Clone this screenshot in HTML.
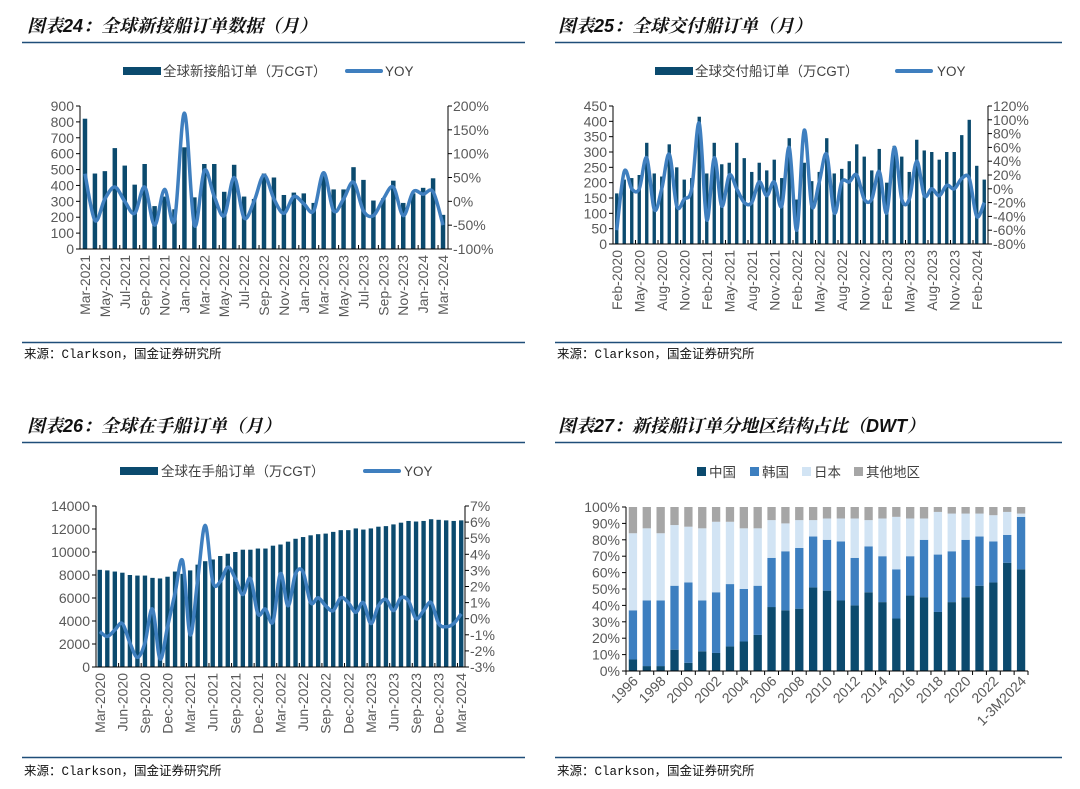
<!DOCTYPE html>
<html><head><meta charset="utf-8"><style>
body{margin:0;background:#fff;}
svg{display:block;font-family:"Liberation Sans","Noto Sans CJK SC",sans-serif;}
.t{font-size:18px;font-weight:bold;font-style:italic;fill:#111;font-family:"Liberation Sans","Noto Serif CJK SC",serif;}
.src{font-size:12.5px;fill:#111;font-family:"Liberation Mono","Noto Sans CJK SC",monospace;}
.tk{font-size:14px;fill:#595959;}
.lg{font-size:13.5px;fill:#404040;}
</style></head><body>
<svg id="s" width="1080" height="789" viewBox="0 0 1080 789">
<text class="t" x="27" y="32">图表24：全球新接船订单数据（月）</text>
<text class="t" x="558" y="32">图表25：全球交付船订单（月）</text>
<text class="t" x="27" y="432">图表26：全球在手船订单（月）</text>
<text class="t" x="558" y="432">图表27：新接船订单分地区结构占比（DWT）</text>
<line x1="22" y1="42.5" x2="525" y2="42.5" stroke="#1f4e79" stroke-width="1.5"/>
<line x1="555" y1="42.5" x2="1062" y2="42.5" stroke="#1f4e79" stroke-width="1.5"/>
<line x1="22" y1="442.5" x2="525" y2="442.5" stroke="#1f4e79" stroke-width="1.5"/>
<line x1="555" y1="442.5" x2="1062" y2="442.5" stroke="#1f4e79" stroke-width="1.5"/>
<line x1="22" y1="342.5" x2="525" y2="342.5" stroke="#1f4e79" stroke-width="1.5"/>
<line x1="555" y1="342.5" x2="1062" y2="342.5" stroke="#1f4e79" stroke-width="1.5"/>
<line x1="22" y1="757.5" x2="525" y2="757.5" stroke="#1f4e79" stroke-width="1.5"/>
<line x1="555" y1="757.5" x2="1062" y2="757.5" stroke="#1f4e79" stroke-width="1.5"/>
<text class="src" x="24" y="358">来源：Clarkson，国金证券研究所</text>
<text class="src" x="557" y="358">来源：Clarkson，国金证券研究所</text>
<text class="src" x="24" y="775">来源：Clarkson，国金证券研究所</text>
<text class="src" x="557" y="775">来源：Clarkson，国金证券研究所</text>

<g>
<rect x="123" y="67" width="38" height="8" fill="#0b4a6e"/><text class="lg" x="163" y="76">全球新接船订单（万CGT）</text>
<rect x="345" y="69" width="38" height="4" rx="2" fill="#3f7fbf"/><text class="lg" x="385" y="76">YOY</text></g>
<g>
<rect x="655" y="67" width="38" height="8" fill="#0b4a6e"/><text class="lg" x="695" y="76">全球交付船订单（万CGT）</text>
<rect x="895" y="69" width="38" height="4" rx="2" fill="#3f7fbf"/><text class="lg" x="937" y="76">YOY</text></g>
<g>
<rect x="120" y="467" width="38" height="8" fill="#0b4a6e"/><text class="lg" x="161" y="476">全球在手船订单（万CGT）</text>
<rect x="363" y="469" width="38" height="4" rx="2" fill="#3f7fbf"/><text class="lg" x="404" y="476">YOY</text></g>
<g>
<rect x="697" y="467" width="9" height="9" fill="#0b4a6e"/><text class="lg" x="709" y="477">中国</text>
<rect x="750" y="467" width="9" height="9" fill="#3d7fc0"/><text class="lg" x="762" y="477">韩国</text>
<rect x="802" y="467" width="9" height="9" fill="#d2e4f4"/><text class="lg" x="814" y="477">日本</text>
<rect x="854" y="467" width="9" height="9" fill="#a6a6a6"/><text class="lg" x="866" y="477">其他地区</text></g>
<g id="c1"></g><g id="c2"></g><g id="c3"></g><g id="c4"></g>
</svg>
<script>
const c1Bars=[820,475,490,635,525,405,535,270,330,250,640,325,535,535,360,530,330,315,475,450,340,355,350,290,460,375,375,515,435,305,320,430,290,350,385,445,215];
const c1Yoy=[58,-40,5,30,0,-25,30,-50,25,-40,185,-50,65,10,-30,50,-35,0,55,5,-25,10,-5,-20,60,-20,5,40,-20,-30,5,30,-30,20,15,20,-50];
const c1Labels=["Mar-2021","May-2021","Jul-2021","Sep-2021","Nov-2021","Jan-2022","Mar-2022","May-2022","Jul-2022","Sep-2022","Nov-2022","Jan-2023","Mar-2023","May-2023","Jul-2023","Sep-2023","Nov-2023","Jan-2024","Mar-2024"];
const c1LeftTicks=[0,100,200,300,400,500,600,700,800,900];
const c1RightTicks=[-100,-50,0,50,100,150,200];

const c2Bars=[165,210,215,225,330,230,220,325,250,210,215,415,230,330,260,265,330,280,235,265,240,275,215,345,145,265,205,235,345,230,245,270,325,285,240,310,200,320,285,235,340,305,300,275,300,300,355,405,255,210];
const c2Yoy=[-60,25,0,0,45,-30,0,50,-25,-15,0,95,-45,45,-25,20,0,-20,-20,10,-10,10,-25,60,-60,85,-25,10,50,-35,10,10,20,-15,-15,25,-35,60,-15,-15,40,-10,0,-10,5,0,15,15,-40,-20];
const c2Labels=["Feb-2020","May-2020","Aug-2020","Nov-2020","Feb-2021","May-2021","Aug-2021","Nov-2021","Feb-2022","May-2022","Aug-2022","Nov-2022","Feb-2023","May-2023","Aug-2023","Nov-2023","Feb-2024"];
const c2LeftTicks=[0,50,100,150,200,250,300,350,400,450];
const c2RightTicks=[-80,-60,-40,-20,0,20,40,60,80,100,120];

const c3Bars=[8450,8400,8300,8200,8000,7950,7950,7750,7700,7850,8300,8100,8400,8900,9200,9350,9650,9850,10000,10200,10200,10300,10300,10550,10650,10900,11150,11300,11450,11550,11600,11750,11900,11900,12050,11950,12050,12200,12250,12400,12550,12700,12650,12700,12850,12800,12750,12700,12750];
const c3Yoy=[-0.8,-1.1,-0.7,-0.3,-1.5,-2.4,-1.5,0.6,-2.5,-0.5,1.6,3.6,-1.0,2.4,5.8,2.3,2.3,3.2,2.5,1.5,2.5,0.3,0.6,-0.2,2.8,0.8,2.8,2.9,1.0,1.3,0.8,0.5,1.3,1.0,0.4,1.0,-0.3,0.8,1.2,0.5,1.3,1.1,0.0,0.5,1.0,-0.3,-0.5,-0.3,0.3];
const c3Labels=["Mar-2020","Jun-2020","Sep-2020","Dec-2020","Mar-2021","Jun-2021","Sep-2021","Dec-2021","Mar-2022","Jun-2022","Sep-2022","Dec-2022","Mar-2023","Jun-2023","Sep-2023","Dec-2023","Mar-2024"];
const c3LeftTicks=[0,2000,4000,6000,8000,10000,12000,14000];
const c3RightTicks=[-3,-2,-1,0,1,2,3,4,5,6,7];

const c4Years=["1996","1997","1998","1999","2000","2001","2002","2003","2004","2005","2006","2007","2008","2009","2010","2011","2012","2013","2014","2015","2016","2017","2018","2019","2020","2021","2022","2023","1-3M2024"];
const c4China=[7,3,3,13,5,12,11,15,18,22,39,37,38,51,49,43,40,48,42,32,46,45,36,42,45,52,54,66,62];
const c4Korea=[30,40,40,39,49,31,37,38,32,30,30,36,37,31,31,36,29,28,28,30,24,35,35,31,35,30,25,17,32];
const c4Japan=[47,44,41,37,34,44,43,38,37,35,23,17,17,10,13,14,24,16,23,32,23,13,26,23,16,14,16,14,2];
const c4Other=[16,13,16,11,12,13,9,9,13,13,8,10,8,8,7,7,7,8,7,6,7,7,3,4,4,4,5,3,4];
const c4Ticks=[0,10,20,30,40,50,60,70,80,90,100];

const NS="http://www.w3.org/2000/svg";
function mk(p,tag,a){const e=document.createElementNS(NS,tag);for(const k in a)e.setAttribute(k,a[k]);p.appendChild(e);return e;}
function smooth(pts){let d="M"+pts[0][0]+","+pts[0][1];for(let i=0;i<pts.length-1;i++){const p0=pts[Math.max(0,i-1)],p1=pts[i],p2=pts[i+1],p3=pts[Math.min(pts.length-1,i+2)];const c1x=p1[0]+(p2[0]-p0[0])/6,c1y=p1[1]+(p2[1]-p0[1])/6,c2x=p2[0]-(p3[0]-p1[0])/6,c2y=p2[1]-(p3[1]-p1[1])/6;d+=" C"+c1x+","+c1y+" "+c2x+","+c2y+" "+p2[0]+","+p2[1];}return d;}

function combo(id,o){
 const g=document.getElementById(id);
 const n=o.bars.length,bw=(o.x1-o.x0)/n;
 const yL=v=>o.yb-(v-o.lmin)/(o.lmax-o.lmin)*(o.yb-o.yt);
 const yR=v=>o.yb-(v-o.rmin)/(o.rmax-o.rmin)*(o.yb-o.yt);
 const xc=i=>o.x0+bw*(i+0.5);
 o.bars.forEach((v,i)=>{const r=mk(g,"rect",{x:xc(i)-bw*o.bf/2,y:yL(v),width:bw*o.bf,height:o.yb-yL(v),fill:"#0b4a6e"});
  
  });
 const pts=o.yoy.map((v,i)=>[xc(i),yR(v)]);
 const ln=mk(g,"path",{d:smooth(pts),fill:"none",stroke:"#3f7fbf","stroke-width":3.5,"stroke-linejoin":"round"});
 
 
 mk(g,"line",{x1:o.x0,y1:o.yt,x2:o.x0,y2:o.yb,stroke:"#000","stroke-width":1});
 mk(g,"line",{x1:o.x1,y1:o.yt,x2:o.x1,y2:o.yb,stroke:"#000","stroke-width":1});
 mk(g,"line",{x1:o.x0,y1:o.yb,x2:o.x1,y2:o.yb,stroke:"#000","stroke-width":1});
 o.lt.forEach(v=>{mk(g,"line",{x1:o.x0-4,y1:yL(v),x2:o.x0,y2:yL(v),stroke:"#000"});
  const t=mk(g,"text",{x:o.x0-6,y:yL(v)+5,"text-anchor":"end",class:"tk"});t.textContent=v;
  
  });
 o.rt.forEach(v=>{mk(g,"line",{x1:o.x1,y1:yR(v),x2:o.x1+4,y2:yR(v),stroke:"#000"});
  const t=mk(g,"text",{x:o.x1+5,y:yR(v)+5,class:"tk"});t.textContent=v+"%";
  
  });
 for(let i=0;i<=n;i+=o.step){mk(g,"line",{x1:o.x0+bw*i,y1:o.yb,x2:o.x0+bw*i,y2:o.yb-4,stroke:"#000"});}
 o.labels.forEach((s,k)=>{const x=xc(k*o.step)+5;const t=mk(g,"text",{x:x,y:o.yb+6,"text-anchor":"end",class:"tk",transform:"rotate(-90 "+x+" "+(o.yb+6)+")"});t.textContent=s;
  
  });
}
combo("c1",{bars:c1Bars,yoy:c1Yoy,labels:c1Labels,lt:c1LeftTicks,rt:c1RightTicks,x0:80,x1:448,yt:106,yb:249,lmin:0,lmax:900,rmin:-100,rmax:200,step:2,bf:0.45});
combo("c2",{bars:c2Bars,yoy:c2Yoy,labels:c2Labels,lt:c2LeftTicks,rt:c2RightTicks,x0:613,x1:988,yt:106,yb:244,lmin:0,lmax:450,rmin:-80,rmax:120,step:3,bf:0.45});
combo("c3",{bars:c3Bars,yoy:c3Yoy,labels:c3Labels,lt:c3LeftTicks,rt:c3RightTicks,x0:96,x1:465,yt:506,yb:667,lmin:0,lmax:14000,rmin:-3,rmax:7,step:3,bf:0.58});

(function(){
 const g=document.getElementById("c4");
 const x0=626,x1=1028,yt=507,yb=671,n=c4Years.length,bw=(x1-x0)/n;
 const y=v=>yb-v/100*(yb-yt);
 const cols=["#0b4a6e","#3d7fc0","#d2e4f4","#a6a6a6"],names=["china","korea","japan","other"];
 const ser=[c4China,c4Korea,c4Japan,c4Other];
 for(let i=0;i<n;i++){let acc=0;const x=x0+bw*i+bw*0.2;
  ser.forEach((s,k)=>{let v=s[i];if(k==3)v=Math.max(0,100-acc);const r=mk(g,"rect",{x:x,y:y(acc+v),width:bw*0.6,height:y(acc)-y(acc+v),fill:cols[k]});
   
   
   acc+=v;});}
 mk(g,"line",{x1:x0,y1:yt,x2:x0,y2:yb,stroke:"#000"});
 mk(g,"line",{x1:x0,y1:yb,x2:x1,y2:yb,stroke:"#000"});
 c4Ticks.forEach(v=>{mk(g,"line",{x1:x0-4,y1:y(v),x2:x0,y2:y(v),stroke:"#000"});
  const t=mk(g,"text",{x:x0-6,y:y(v)+5,"text-anchor":"end",class:"tk"});t.textContent=v+"%";
  
  });
 for(let i=0;i<=n;i++)mk(g,"line",{x1:x0+bw*i,y1:yb,x2:x0+bw*i,y2:yb+4,stroke:"#000"});
 c4Years.forEach((s,i)=>{if(i%2)return;const x=x0+bw*(i+0.5)+6,yy=yb+11;
  const t=mk(g,"text",{x:x,y:yy,"text-anchor":"end",class:"tk",transform:"rotate(-45 "+x+" "+yy+")"});t.textContent=s;
  
  });
})();
</script>
</body></html>
